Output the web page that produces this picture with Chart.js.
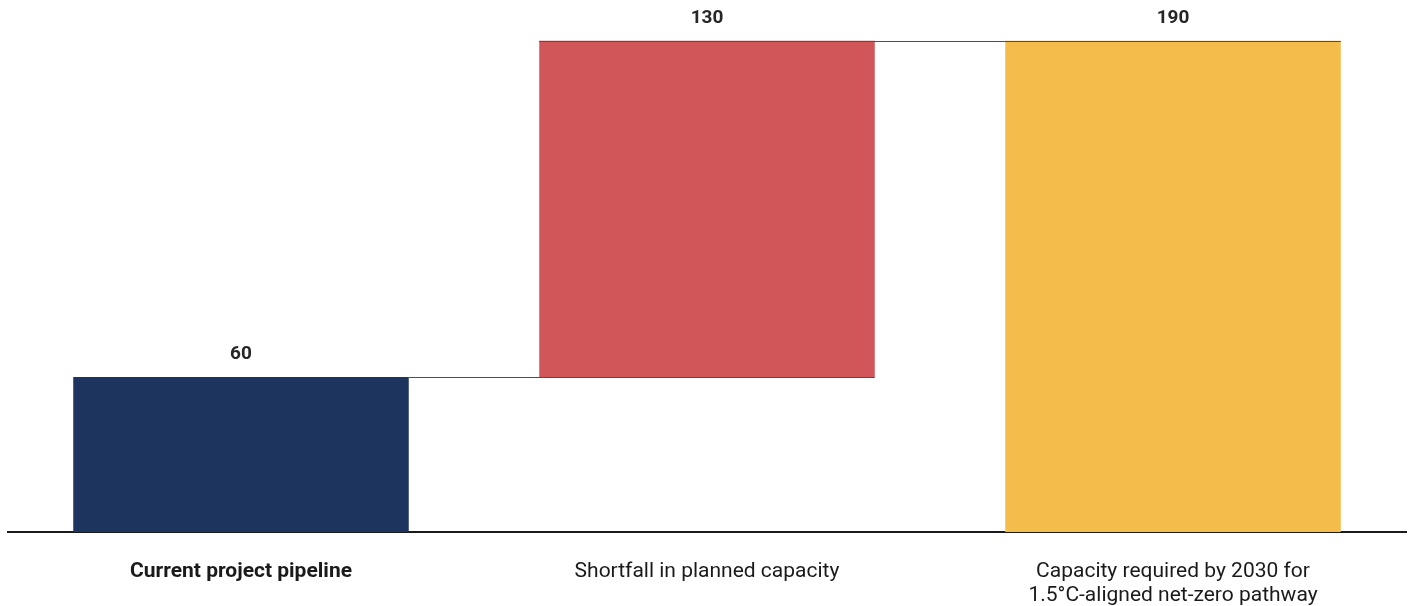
<!DOCTYPE html>
<html>
<head>
<meta charset="utf-8">
<script src="https://cdn.jsdelivr.net/npm/chart.js@4/dist/chart.umd.min.js"></script>
<style>
  html,body{margin:0;padding:0;background:#fff;}
  #wrap{width:1416px;height:606px;position:relative;}
</style>
</head>
<body>
<div id="wrap"><canvas id="chart"></canvas></div>
<script>
const categories = [
  'Current project pipeline',
  'Shortfall in planned capacity',
  ['Capacity required by 2030 for', '1.5°C-aligned net-zero pathway']
];
const barStart = [0, 60, 0];
const barEnd = [60, 190, 190];
const valueLabels = ['60', '130', '190'];
const colors = ['#1d355e', '#d05659', '#f3bc4b'];

const FONT = 'Roboto, "Open Sans", sans-serif';

// value labels above each bar + connector lines
const waterfallExtras = {
  id: 'waterfallExtras',
  afterDatasetsDraw(chart){
    const {ctx} = chart;
    const meta = chart.getDatasetMeta(0);
    const y = chart.scales.y;
    ctx.save();
    // connectors
    ctx.strokeStyle = '#3a5278';
    ctx.lineWidth = 1;
    for(let i=0;i<meta.data.length-1;i++){
      const a = meta.data[i], b = meta.data[i+1];
      const py = Math.round(y.getPixelForValue(barEnd[i])) + 0.5;
      ctx.beginPath();
      ctx.moveTo(i===0 ? a.x + a.width/2 : a.x - a.width/2, py);
      ctx.lineTo(b.x + b.width/2, py);
      ctx.stroke();
    }
    ctx.fillStyle = '#262626';
    ctx.font = 'bold 19px ' + FONT;
    ctx.textAlign = 'center';
    ctx.textBaseline = 'middle';
    meta.data.forEach((bar,i)=>{
      const top = y.getPixelForValue(barEnd[i]);
      ctx.fillText(valueLabels[i], bar.x, top - 23);
    });
    ctx.restore();
  }
};

new Chart(document.getElementById('chart'), {
  type: 'bar',
  data: {
    labels: categories,
    datasets: [{
      data: barStart.map((s,i)=>[s, barEnd[i]]),
      backgroundColor: colors,
      borderWidth: 0,
      categoryPercentage: 1,
      barPercentage: 0.72
    }]
  },
  options: {
    responsive: true,
    maintainAspectRatio: false,
    animation: false,
    layout: { padding: { left: 8, right: 10, top: 15, bottom: 0 } },
    plugins: { legend: {display:false}, tooltip: {enabled:false} },
    scales: {
      x: {
        grid: { display:false },
        border: { display:true, color:'#1a1a1a', width:2 },
        afterFit(scale){ scale.height = 74; },
        ticks: {
          color: '#1a1a1a',
          padding: 20,
          maxRotation: 0,
          autoSkip: false,
          font: ctx => ({ family: FONT, size: 21, weight: ctx.index === 0 ? 'bold' : 'normal', lineHeight: 1.12 })
        }
      },
      y: {
        display: false,
        min: 0,
        max: 200
      }
    }
  },
  plugins: [waterfallExtras]
});
</script>
</body>
</html>
